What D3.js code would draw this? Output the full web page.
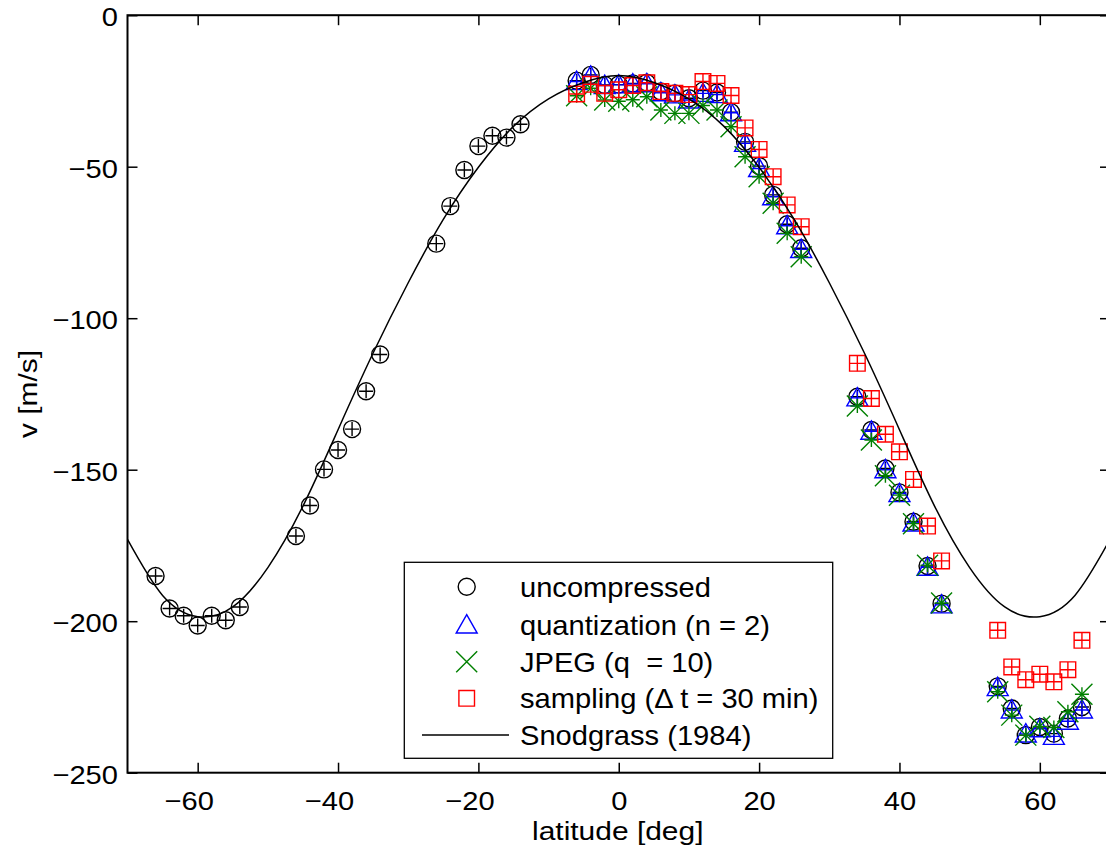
<!DOCTYPE html>
<html><head><meta charset="utf-8">
<script src="https://cdn.jsdelivr.net/npm/d3@7"></script>
<style>
html,body{margin:0;padding:0;background:#fff;}
text{font-family:"Liberation Sans",Arial,Helvetica,sans-serif;white-space:pre;}
</style></head>
<body>
<svg id="chart" width="1106" height="852"></svg>
<script>
// ---------- data ----------
const LAT_UNCOMP = [-66,-64,-62,-60,-58,-56,-54,
  -46,-44,-42,-40,-38,-36,-34,
  -26,-24,-22,-20,-18,-16,-14,
  -6,-4,-2,0,2,4,6,8,10,12,14,16,18,20,22,24,26,
  34,36,38,40,42,44,46,
  54,56,58,60,62,64,66];
const UNCOMPRESSED = [-185.1,-195.8,-198.2,-201.4,-198.2,-199.7,-195.3,
  -171.9,-161.8,-149.9,-143.5,-136.6,-124.1,-112.0,
  -75.4,-63.0,-51.1,-43.2,-39.8,-40.4,-36.0,
  -21.6,-19.7,-23.0,-22.9,-22.5,-22.3,-25.2,-25.8,-27.4,-24.9,-25.5,-32.0,-41.8,-49.8,-59.3,-69.0,-76.9,
  -125.9,-136.9,-149.6,-157.5,-167.2,-181.8,-194.2,
  -221.5,-228.8,-237.6,-234.9,-237.1,-232.1,-228.3];

const LAT_NORTH = [-6,-4,-2,0,2,4,6,8,10,12,14,16,18,20,22,24,26,
  34,36,38,40,42,44,46,
  54,56,58,60,62,64,66];
const QUANTIZATION = [-21.9,-20.1,-23.2,-23.0,-22.7,-22.6,-25.6,-26.3,-28.0,-25.8,-26.2,-32.2,-42.3,-50.6,-59.9,-69.5,-77.3,
  -126.3,-137.3,-150.0,-157.9,-167.6,-182.2,-194.6,
  -221.9,-229.3,-237.2,-235.5,-238.0,-233.0,-229.3];
const JPEG = [-26.6,-24.1,-28.0,-28.4,-27.9,-26.9,-31.3,-32.4,-32.4,-29.8,-31.3,-36.8,-46.7,-53.3,-62.1,-72.0,-79.7,
  -129.0,-140.2,-152.0,-158.4,-167.8,-181.5,-194.0,
  -223.3,-231.0,-237.6,-234.7,-235.1,-229.9,-224.1];
const SAMPLING = [-26.0,-22.8,-25.8,-24.6,-23.2,-22.3,-25.2,-25.8,-26.2,-21.9,-22.5,-26.5,-37.2,-44.3,-53.3,-62.6,-69.8,
  -114.9,-126.5,-138.3,-144.1,-153.2,-168.6,-180.1,
  -203.0,-215.1,-219.3,-217.5,-220.0,-216.0,-206.3];

const SNOD_LAT = [-70,-65,-60,-55,-50,-45,-40,-35,-30,-25,-20,-15,-10,-5,0,5,10,15,20,25,30,35,40,45,50,55,60,65,70];
const SNOD_V = [-173,-191.5,-198.5,-195.3,-182.3,-162,-136.8,-111.5,-88.3,-67.4,-50.2,-36.7,-27.6,-22.2,-19.9,
  -22.2,-27.6,-36.7,-50.2,-67.4,-88.3,-111.5,-136.8,-162,-182.3,-195.3,-198.5,-191.5,-173];

const X_TICKS = [-60,-40,-20,0,20,40,60];
const Y_TICKS = [0,-50,-100,-150,-200,-250];
const LEGEND_LABELS = ["uncompressed","quantization (n = 2)","JPEG (q  = 10)","sampling (\u0394 t = 30 min)","Snodgrass (1984)"];

// ---------- layout ----------
const svg = d3.select("#chart");
const L = 127.5, R = 1110, T = 15.2, B = 772.7;
const x = d3.scaleLinear().domain([-70,70]).range([L,R]);
const y = d3.scaleLinear().domain([-250,0]).range([B,T]);
const TICK_FS = 26, TICK_SX = 1.12;
const TITLE_FS = 26.5, TITLE_SX = 1.13;
const LEG_FS = 28, LEG_SX = 1.04;

// marker shapes
const shapes = {
  circle: r => `M${-r},0A${r},${r} 0 1,0 ${r},0A${r},${r} 0 1,0 ${-r},0Z`,
  tri: s => `M0,${-s}L${s*1.02},${s*0.78}L${-s*1.02},${s*0.78}Z`,
  cross: s => `M${-s},${-s}L${s},${s}M${-s},${s}L${s},${-s}`,
  square: s => `M${-s},${-s}H${s}V${s}H${-s}Z`,
  plus: s => `M${-s},0H${s}M0,${-s}V${s}`
};

const series = [
  {lat: LAT_UNCOMP, v: UNCOMPRESSED, color:"#000000", shape: shapes.circle(8.5), plus: 7},
  {lat: LAT_NORTH, v: QUANTIZATION, color:"#0000ff", shape: shapes.tri(10.3), plus: 7},
  {lat: LAT_NORTH, v: JPEG, color:"#008000", shape: shapes.cross(10.5), plus: 7},
  {lat: LAT_NORTH, v: SAMPLING, color:"#ff0000", shape: shapes.square(7.8), plus: 7.8}
];

svg.append("defs").append("clipPath").attr("id","clip")
  .append("rect").attr("x",L).attr("y",T).attr("width",R-L).attr("height",B-T);

const plot = svg.append("g").attr("clip-path","url(#clip)");

series.forEach(s => {
  const pts = s.lat.map((la,i)=>({lat:la, v:s.v[i]}));
  const g = plot.append("g");
  const m = g.selectAll("g").data(pts).join("g")
    .attr("transform", d=>`translate(${x(d.lat)},${y(d.v)})`);
  m.append("path").attr("d", s.shape).attr("fill","none")
    .attr("stroke", s.color).attr("stroke-width",1.4);
  m.append("path").attr("d", shapes.plus(s.plus)).attr("fill","none")
    .attr("stroke", s.color).attr("stroke-width",1.4);
});

const line = d3.line().x(d=>x(d[0])).y(d=>y(d[1])).curve(d3.curveNatural);
plot.append("path")
  .datum(SNOD_LAT.map((la,i)=>[la,SNOD_V[i]]))
  .attr("d", line).attr("fill","none").attr("stroke","#000").attr("stroke-width",1.5);

// ---------- axes ----------
const axG = svg.append("g");
function styleTicks(g){
  g.select(".domain").remove();
  g.selectAll(".tick line").attr("stroke","#000").attr("stroke-width",1.5);
}
// bottom
axG.append("g").attr("transform",`translate(0,${B})`)
  .call(d3.axisBottom(x).tickValues(X_TICKS).tickSize(-10).tickPadding(19))
  .call(styleTicks)
  .call(g=>g.selectAll(".tick text")
    .attr("font-size",TICK_FS).attr("fill","#000").attr("font-family",null)
    .attr("x", d => d < 0 ? -9/TICK_SX : 0)
    .attr("transform",`scale(${TICK_SX},1)`));
// top
axG.append("g").attr("transform",`translate(0,${T})`)
  .call(d3.axisTop(x).tickValues(X_TICKS).tickSize(-10))
  .call(styleTicks).call(g=>g.selectAll(".tick text").remove());
// left
axG.append("g").attr("transform",`translate(${L},0)`)
  .call(d3.axisLeft(y).tickValues(Y_TICKS).tickSize(-10).tickPadding(10))
  .call(styleTicks)
  .call(g=>g.selectAll(".tick text")
    .attr("font-size",TICK_FS).attr("fill","#000").attr("font-family",null)
    .attr("x", -9.5/TICK_SX).attr("dy","0.4em")
    .attr("transform",`scale(${TICK_SX},1)`));
// right
axG.append("g").attr("transform",`translate(${R},0)`)
  .call(d3.axisRight(y).tickValues(Y_TICKS).tickSize(-10))
  .call(styleTicks).call(g=>g.selectAll(".tick text").remove());
axG.append("rect").attr("x",L).attr("y",T).attr("width",R-L).attr("height",B-T)
  .attr("fill","none").attr("stroke","#000").attr("stroke-width",2);

// titles
svg.append("text").attr("transform",`translate(${(L+R)/2 - 1},840) scale(${TITLE_SX},1)`)
  .attr("text-anchor","middle").attr("font-size",TITLE_FS).text("latitude [deg]");
svg.append("text").attr("transform",`translate(37,394) rotate(-90) scale(${TITLE_SX},1)`)
  .attr("text-anchor","middle").attr("font-size",TITLE_FS).text("v [m/s]");

// ---------- legend ----------
const lg = svg.append("g");
lg.append("rect").attr("x",404.3).attr("y",562.3).attr("width",428.4).attr("height",196)
  .attr("fill","#fff").attr("stroke","#000").attr("stroke-width",1.3);
const rowY = [586.7,625,661.7,698.3,735];
series.forEach((s,i)=>{
  lg.append("path").attr("transform",`translate(466.7,${rowY[i]})`)
    .attr("d", s.shape).attr("fill","none").attr("stroke",s.color).attr("stroke-width",1.4);
});
lg.append("line").attr("x1",422).attr("x2",509).attr("y1",rowY[4]).attr("y2",rowY[4])
  .attr("stroke","#000").attr("stroke-width",1.5);
LEGEND_LABELS.forEach((t,i)=>{
  lg.append("text").attr("transform",`translate(520,${rowY[i]}) scale(${LEG_SX},1)`)
    .attr("dy","0.36em").attr("xml:space","preserve")
    .attr("font-size",LEG_FS).attr("fill","#000").text(t);
});
</script>
</body></html>
